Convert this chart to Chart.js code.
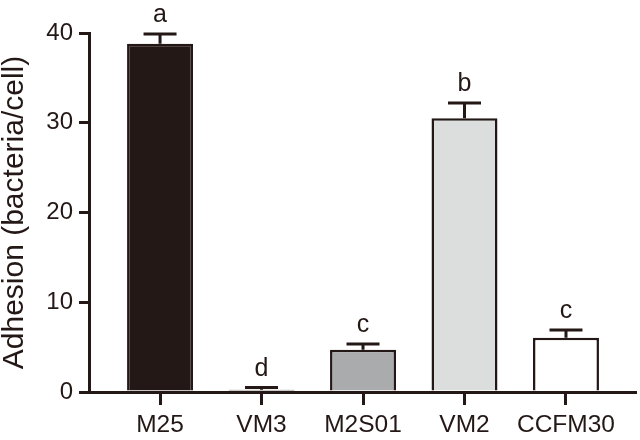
<!DOCTYPE html>
<html>
<head>
<meta charset="utf-8">
<script src="https://cdn.jsdelivr.net/npm/chart.js@4"></script>
<style>
  html, body { margin: 0; padding: 0; background: #ffffff; }
  #wrap { width: 640px; height: 440px; }
</style>
</head>
<body>
<div id="wrap"><canvas id="c" width="640" height="440"></canvas></div>
<script>
const categories = ['M25', 'VM3', 'M2S01', 'VM2', 'CCFM30'];
const means = [38.8, 0.25, 4.7, 30.5, 6.05];
const errors = [1.1, 0.25, 0.65, 1.7, 0.85];
const letters = ['a', 'd', 'c', 'b', 'c'];
const fills = ['#231815', '#231815', '#aaabad', '#dcdedd', '#ffffff'];
const yTicks = [0, 10, 20, 30, 40];

const ink = '#231815';
const FONT = "'Liberation Sans', Arial, sans-serif";

const errorBarPlugin = {
  id: 'errorBars',
  afterDatasetsDraw(chart) {
    const ctx = chart.ctx;
    const xs = chart.scales.x, ys = chart.scales.y;
    ctx.save();
    ctx.strokeStyle = ink;
    ctx.lineWidth = 3;
    ctx.fillStyle = ink;
    ctx.font = '25px ' + FONT;
    ctx.textAlign = 'center';
    ctx.textBaseline = 'alphabetic';
    means.forEach((m, i) => {
      const x = xs.getPixelForValue(i);
      const yb = ys.getPixelForValue(m);
      const yt = ys.getPixelForValue(m + errors[i]);
      ctx.beginPath();
      ctx.moveTo(x, yb);
      ctx.lineTo(x, yt);
      ctx.moveTo(x - 16.5, yt);
      ctx.lineTo(x + 16.5, yt);
      ctx.stroke();
      ctx.fillText(letters[i], x, yt - 12);
    });
    ctx.restore();
  }
};

new Chart(document.getElementById('c'), {
  type: 'bar',
  data: {
    datasets: [{
      data: means.map((v, i) => ({ x: i, y: v })),
      backgroundColor: fills,
      borderColor: ink,
      borderWidth: 2.5,
      borderSkipped: 'start',
      categoryPercentage: 1,
      barPercentage: 0.65
    }]
  },
  options: {
    responsive: false,
    animation: false,
    devicePixelRatio: 1,
    layout: { padding: { top: 33, right: 5, left: 0, bottom: 0 } },
    plugins: { legend: { display: false }, tooltip: { enabled: false } },
    scales: {
      x: {
        type: 'linear',
        min: -0.7,
        max: 4.68,
        offset: false,
        afterFit: (s) => { s.height = 48; },
        afterBuildTicks: (s) => { s.ticks = categories.map((c, i) => ({ value: i })); },
        ticks: {
          includeBounds: false,
          autoSkip: false,
          maxRotation: 0,
          padding: 6,
          color: ink,
          font: { family: FONT, size: 24.5 },
          callback: (v) => categories[v]
        },
        grid: { display: true, offset: false, drawOnChartArea: false, drawTicks: true, tickLength: 13, color: ink, lineWidth: 3 },
        border: { display: true, color: ink, width: 3 }
      },
      y: {
        min: 0,
        max: 40,
        afterFit: (s) => { s.width = 89; },
        afterBuildTicks: (s) => { s.ticks = yTicks.map(v => ({ value: v })); },
        ticks: {
          padding: 6,
          color: ink,
          font: { family: FONT, size: 24 }
        },
        grid: { display: true, offset: false, drawOnChartArea: false, drawTicks: true, tickLength: 10, color: ink, lineWidth: 3 },
        border: { display: true, color: ink, width: 3 },
        title: {
          display: true,
          text: 'Adhesion (bacteria/cell)',
          color: ink,
          font: { family: FONT, size: 30, lineHeight: 1.0 },
          padding: { top: 0, bottom: 0 }
        }
      }
    }
  },
  plugins: [errorBarPlugin]
});
</script>
</body>
</html>
